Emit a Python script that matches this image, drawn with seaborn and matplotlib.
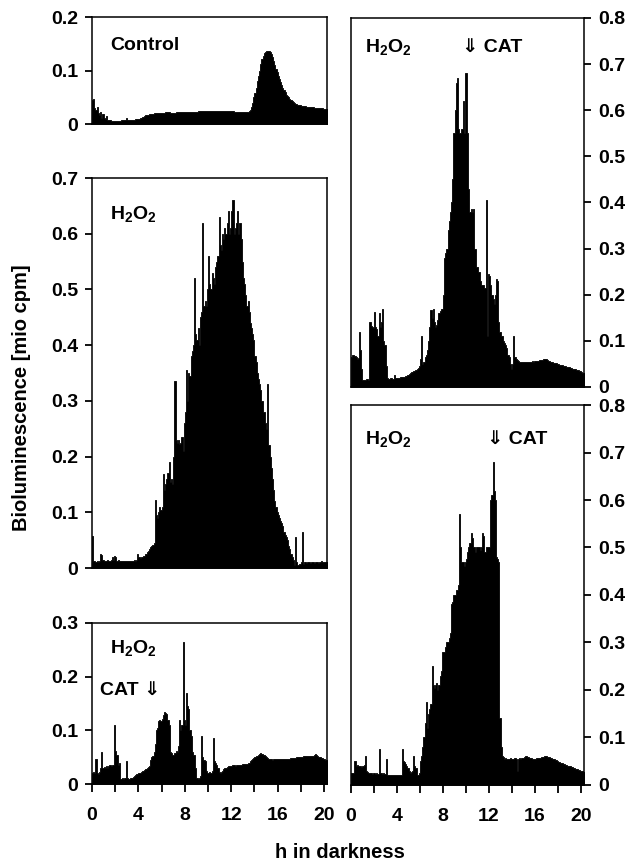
import numpy as np
import pandas as pd
import matplotlib
matplotlib.use("Agg")
import matplotlib.pyplot as plt
import seaborn as sns

# bioluminescence [mio cpm], one value per 0.1 h bin, one row per hour (0 .. 20.2 h)
control = [
    0.045, 0.046, 0.030, 0.026, 0.032, 0.020, 0.017, 0.022, 0.012, 0.018,
    0.012, 0.010, 0.015, 0.008, 0.007, 0.007, 0.006, 0.006, 0.006, 0.006,
    0.006, 0.006, 0.006, 0.006, 0.006, 0.007, 0.007, 0.007, 0.007, 0.011,
    0.007, 0.007, 0.007, 0.007, 0.008, 0.008, 0.008, 0.009, 0.009, 0.010,
    0.010, 0.011, 0.012, 0.013, 0.014, 0.015, 0.016, 0.017, 0.017, 0.018,
    0.018, 0.019, 0.019, 0.020, 0.020, 0.020, 0.021, 0.021, 0.021, 0.021,
    0.021, 0.021, 0.021, 0.022, 0.022, 0.022, 0.022, 0.021, 0.021, 0.021,
    0.021, 0.021, 0.022, 0.022, 0.022, 0.022, 0.022, 0.022, 0.022, 0.022,
    0.022, 0.022, 0.022, 0.023, 0.023, 0.023, 0.023, 0.023, 0.023, 0.023,
    0.023, 0.024, 0.024, 0.024, 0.024, 0.024, 0.025, 0.025, 0.025, 0.025,
    0.025, 0.025, 0.025, 0.025, 0.025, 0.025, 0.025, 0.025, 0.025, 0.025,
    0.025, 0.025, 0.024, 0.024, 0.024, 0.024, 0.024, 0.024, 0.024, 0.024,
    0.024, 0.024, 0.023, 0.023, 0.023, 0.023, 0.023, 0.022, 0.022, 0.022,
    0.022, 0.022, 0.022, 0.022, 0.023, 0.024, 0.026, 0.032, 0.040, 0.050,
    0.058, 0.068, 0.080, 0.090, 0.100, 0.112, 0.122, 0.128, 0.132, 0.134,
    0.136, 0.137, 0.136, 0.134, 0.130, 0.125, 0.118, 0.110, 0.103, 0.097,
    0.090, 0.084, 0.078, 0.073, 0.068, 0.063, 0.059, 0.055, 0.052, 0.050,
    0.047, 0.045, 0.043, 0.041, 0.040, 0.038, 0.037, 0.036, 0.035, 0.035,
    0.034, 0.034, 0.033, 0.033, 0.032, 0.032, 0.032, 0.031, 0.031, 0.031,
    0.031, 0.030, 0.030, 0.030, 0.030, 0.029, 0.029, 0.029, 0.029, 0.028,
    0.028, 0.028, 0.028,
]

h2o2 = [
    0.057, 0.012, 0.012, 0.010, 0.012, 0.011, 0.013, 0.025, 0.024, 0.015,
    0.012, 0.013, 0.012, 0.014, 0.013, 0.012, 0.015, 0.020, 0.014, 0.022,
    0.020, 0.013, 0.014, 0.013, 0.012, 0.013, 0.012, 0.013, 0.013, 0.012,
    0.013, 0.013, 0.013, 0.012, 0.013, 0.013, 0.014, 0.013, 0.014, 0.026,
    0.020, 0.018, 0.019, 0.020, 0.022, 0.022, 0.025, 0.028, 0.030, 0.035,
    0.038, 0.040, 0.042, 0.045, 0.122, 0.095, 0.090, 0.100, 0.110, 0.105,
    0.110, 0.168, 0.140, 0.150, 0.160, 0.170, 0.190, 0.155, 0.160, 0.150,
    0.200, 0.335, 0.230, 0.225, 0.230, 0.222, 0.225, 0.235, 0.210, 0.260,
    0.280, 0.355, 0.300, 0.350, 0.345, 0.380, 0.390, 0.400, 0.520, 0.420,
    0.410, 0.430, 0.400, 0.450, 0.460, 0.620, 0.470, 0.480, 0.470, 0.500,
    0.560, 0.510, 0.500, 0.530, 0.520, 0.510, 0.540, 0.550, 0.560, 0.630,
    0.580, 0.570, 0.600, 0.590, 0.610, 0.600, 0.620, 0.640, 0.600, 0.610,
    0.640, 0.660, 0.600, 0.610, 0.620, 0.640, 0.600, 0.620, 0.590, 0.550,
    0.520, 0.510, 0.490, 0.470, 0.480, 0.460, 0.440, 0.430, 0.420, 0.410,
    0.380, 0.370, 0.350, 0.340, 0.330, 0.320, 0.300, 0.280, 0.280, 0.260,
    0.250, 0.330, 0.220, 0.200, 0.180, 0.160, 0.140, 0.120, 0.110, 0.100,
    0.095, 0.090, 0.085, 0.080, 0.075, 0.065, 0.060, 0.055, 0.050, 0.040,
    0.035, 0.025, 0.020, 0.015, 0.005, 0.055, 0.010, 0.005, 0.008, 0.008,
    0.010, 0.065, 0.008, 0.010, 0.009, 0.010, 0.011, 0.010, 0.009, 0.010,
    0.010, 0.009, 0.010, 0.011, 0.010, 0.009, 0.010, 0.012, 0.010, 0.010,
    0.010, 0.011, 0.010,
]

h2o2_cat_early = [
    0.020, 0.022, 0.020, 0.046, 0.020, 0.018, 0.022, 0.030, 0.060, 0.030,
    0.032, 0.030, 0.034, 0.030, 0.033, 0.035, 0.034, 0.036, 0.035, 0.110,
    0.062, 0.055, 0.035, 0.040, 0.010, 0.010, 0.012, 0.010, 0.011, 0.042,
    0.012, 0.010, 0.010, 0.011, 0.012, 0.013, 0.015, 0.017, 0.018, 0.019,
    0.020, 0.021, 0.022, 0.024, 0.025, 0.026, 0.028, 0.030, 0.031, 0.033,
    0.045, 0.050, 0.052, 0.060, 0.075, 0.100, 0.105, 0.118, 0.120, 0.118,
    0.122, 0.128, 0.135, 0.133, 0.130, 0.120, 0.110, 0.060, 0.058, 0.055,
    0.055, 0.058, 0.062, 0.060, 0.070, 0.120, 0.100, 0.110, 0.265, 0.120,
    0.110, 0.170, 0.145, 0.140, 0.100, 0.090, 0.060, 0.055, 0.055, 0.030,
    0.012, 0.010, 0.012, 0.015, 0.090, 0.050, 0.045, 0.042, 0.025, 0.020,
    0.020, 0.022, 0.020, 0.025, 0.085, 0.042, 0.040, 0.035, 0.030, 0.022,
    0.020, 0.022, 0.025, 0.028, 0.030, 0.030, 0.032, 0.033, 0.033, 0.034,
    0.034, 0.035, 0.035, 0.034, 0.035, 0.036, 0.035, 0.036, 0.036, 0.037,
    0.037, 0.038, 0.038, 0.038, 0.039, 0.040, 0.042, 0.044, 0.046, 0.048,
    0.050, 0.052, 0.053, 0.055, 0.056, 0.057, 0.056, 0.055, 0.054, 0.052,
    0.050, 0.048, 0.047, 0.046, 0.046, 0.045, 0.046, 0.046, 0.046, 0.046,
    0.046, 0.047, 0.047, 0.046, 0.047, 0.047, 0.046, 0.047, 0.047, 0.047,
    0.047, 0.048, 0.048, 0.048, 0.049, 0.049, 0.050, 0.050, 0.050, 0.051,
    0.051, 0.051, 0.052, 0.052, 0.052, 0.052, 0.053, 0.053, 0.053, 0.052,
    0.053, 0.054, 0.056, 0.054, 0.052, 0.051, 0.050, 0.049, 0.048, 0.047,
    0.046, 0.045, 0.044,
]

h2o2_cat_mid = [
    0.065, 0.069, 0.070, 0.068, 0.066, 0.060, 0.062, 0.120, 0.080, 0.040,
    0.015, 0.016, 0.015, 0.017, 0.018, 0.016, 0.140, 0.132, 0.130, 0.128,
    0.163, 0.130, 0.125, 0.110, 0.160, 0.130, 0.140, 0.170, 0.100, 0.090,
    0.045, 0.020, 0.018, 0.018, 0.019, 0.020, 0.018, 0.025, 0.020, 0.019,
    0.019, 0.020, 0.020, 0.021, 0.021, 0.022, 0.022, 0.023, 0.024, 0.025,
    0.028, 0.030, 0.032, 0.033, 0.034, 0.035, 0.037, 0.040, 0.042, 0.045,
    0.060, 0.110, 0.050, 0.055, 0.065, 0.070, 0.080, 0.100, 0.130, 0.166,
    0.150, 0.170, 0.140, 0.130, 0.135, 0.145, 0.160, 0.165, 0.170, 0.170,
    0.200, 0.280, 0.290, 0.300, 0.340, 0.360, 0.380, 0.400, 0.450, 0.550,
    0.600, 0.660, 0.670, 0.560, 0.550, 0.550, 0.560, 0.620, 0.550, 0.680,
    0.680, 0.550, 0.430, 0.380, 0.385, 0.380, 0.385, 0.300, 0.300, 0.260,
    0.250, 0.250, 0.230, 0.220, 0.220, 0.220, 0.215, 0.405, 0.110, 0.245,
    0.240, 0.220, 0.200, 0.190, 0.180, 0.200, 0.235, 0.230, 0.140, 0.120,
    0.110, 0.110, 0.100, 0.095, 0.090, 0.085, 0.070, 0.065, 0.050, 0.040,
    0.050, 0.110, 0.065, 0.060, 0.058, 0.056, 0.055, 0.055, 0.055, 0.054,
    0.055, 0.055, 0.055, 0.054, 0.055, 0.055, 0.055, 0.056, 0.055, 0.056,
    0.056, 0.057, 0.057, 0.058, 0.058, 0.058, 0.059, 0.060, 0.060, 0.060,
    0.058, 0.057, 0.056, 0.055, 0.054, 0.054, 0.053, 0.052, 0.051, 0.050,
    0.049, 0.048, 0.048, 0.047, 0.046, 0.046, 0.045, 0.044, 0.044, 0.043,
    0.042, 0.041, 0.040, 0.040, 0.039, 0.038, 0.037, 0.036, 0.035, 0.034,
    0.032, 0.031, 0.030,
]

h2o2_cat_late = [
    0.025, 0.026, 0.025, 0.050, 0.040, 0.042, 0.040, 0.041, 0.040, 0.038,
    0.040, 0.042, 0.060, 0.030, 0.028, 0.025, 0.026, 0.025, 0.024, 0.025,
    0.025, 0.024, 0.025, 0.024, 0.075, 0.026, 0.025, 0.024, 0.025, 0.024,
    0.055, 0.022, 0.020, 0.021, 0.020, 0.020, 0.021, 0.020, 0.020, 0.021,
    0.020, 0.021, 0.020, 0.022, 0.075, 0.050, 0.048, 0.045, 0.040, 0.035,
    0.030, 0.025, 0.028, 0.030, 0.060, 0.040, 0.035, 0.022, 0.020, 0.025,
    0.050, 0.060, 0.080, 0.100, 0.130, 0.175, 0.120, 0.150, 0.160, 0.170,
    0.250, 0.210, 0.205, 0.210, 0.215, 0.200, 0.210, 0.230, 0.240, 0.280,
    0.280, 0.280, 0.290, 0.300, 0.300, 0.310, 0.320, 0.380, 0.385, 0.400,
    0.400, 0.410, 0.410, 0.420, 0.570, 0.500, 0.470, 0.470, 0.460, 0.470,
    0.475, 0.490, 0.500, 0.510, 0.530, 0.520, 0.500, 0.500, 0.490, 0.500,
    0.500, 0.500, 0.495, 0.500, 0.530, 0.525, 0.490, 0.500, 0.500, 0.500,
    0.500, 0.600, 0.610, 0.680, 0.620, 0.600, 0.480, 0.475, 0.470, 0.140,
    0.080, 0.060, 0.058, 0.055, 0.056, 0.055, 0.054, 0.055, 0.056, 0.055,
    0.055, 0.054, 0.056, 0.055, 0.030, 0.055, 0.056, 0.055, 0.057, 0.056,
    0.058, 0.060, 0.060, 0.059, 0.058, 0.057, 0.056, 0.055, 0.055, 0.055,
    0.055, 0.056, 0.056, 0.057, 0.057, 0.058, 0.058, 0.059, 0.060, 0.060,
    0.059, 0.058, 0.058, 0.057, 0.056, 0.055, 0.054, 0.053, 0.052, 0.050,
    0.049, 0.048, 0.047, 0.046, 0.045, 0.044, 0.043, 0.042, 0.041, 0.040,
    0.039, 0.038, 0.037, 0.036, 0.035, 0.034, 0.033, 0.032, 0.031, 0.030,
    0.030, 0.029, 0.028,
]

bin_h = 0.1
n_bins = len(control)
hours = np.arange(n_bins) * bin_h + bin_h / 2   # bin centres
x_major = [0, 4, 8, 12, 16, 20]
x_minor = [2, 6, 10, 14, 18]

sns.set_style("ticks")
plt.rcParams["font.family"] = ["Liberation Sans", "DejaVu Sans"]
plt.rcParams["font.weight"] = "bold"
plt.rcParams["text.color"] = "black"
plt.rcParams["xtick.color"] = "black"
plt.rcParams["ytick.color"] = "black"
plt.rcParams["mathtext.fontset"] = "custom"
plt.rcParams["mathtext.rm"] = "Liberation Sans:bold"
plt.rcParams["mathtext.bf"] = "Liberation Sans:bold"
plt.rcParams["mathtext.it"] = "Liberation Sans:bold"

fig = plt.figure(figsize=(6.34, 8.63), dpi=100)

# (values, rect, ymax, right side ticks, show x ticks)
panels = [
    (control, [0.1451, 0.8563, 0.3707, 0.1240], 0.2, False, False),
    (h2o2, [0.1451, 0.3418, 0.3707, 0.4519], 0.7, False, False),
    (h2o2_cat_early, [0.1451, 0.0915, 0.3707, 0.1866], 0.3, False, True),
    (h2o2_cat_mid, [0.5536, 0.5516, 0.3675, 0.4276], 0.8, True, False),
    (h2o2_cat_late, [0.5536, 0.0904, 0.3675, 0.4403], 0.8, True, True),
]

fmt = matplotlib.ticker.FuncFormatter(lambda v, p: "0" if abs(v) < 1e-9 else f"{v:.1f}")
axes = []
for vals, rect, ymax, right, xt in panels:
    ax = fig.add_axes(rect)
    df = pd.DataFrame({"h": hours, "lum": vals})
    sns.histplot(data=df, x="h", weights="lum", binwidth=bin_h,
                 binrange=(0, n_bins * bin_h), element="step", fill=True,
                 color="black", alpha=1, linewidth=0.6, ax=ax)
    ax.set_xlim(0, 20.25)
    ax.set_ylim(0, ymax)
    ax.set_yticks(np.round(np.arange(0, ymax + 0.001, 0.1), 1))
    ax.yaxis.set_major_formatter(fmt)
    ax.set_xlabel("")
    ax.set_ylabel("")
    if right:
        ax.yaxis.tick_right()
    if xt:
        ax.set_xticks(x_major)
        ax.set_xticks(x_minor, minor=True)
        ax.tick_params(axis="x", which="both", direction="out", length=5.5,
                       width=1.3, pad=11)
    else:
        ax.set_xticks([])
    ax.tick_params(axis="y", direction="out", length=5, width=1.3, pad=5)
    ax.tick_params(labelsize=14)
    for s in ax.spines.values():
        s.set_visible(True)
        s.set_linewidth(1.1)
        s.set_color("black")
    axes.append(ax)

lab = dict(fontsize=14, fontweight="bold", va="center")
h2o2_txt = r"$\mathbf{H_2O_2}$"
axes[0].text(0.077, 0.73, "Control", transform=axes[0].transAxes, **lab)
axes[1].text(0.077, 0.908, h2o2_txt, transform=axes[1].transAxes, **lab)
axes[2].text(0.077, 0.845, h2o2_txt, transform=axes[2].transAxes, **lab)
axes[2].text(0.034, 0.584, "CAT \u21d3", transform=axes[2].transAxes, **lab)
axes[3].text(0.06, 0.921, h2o2_txt, transform=axes[3].transAxes, **lab)
axes[3].text(0.476, 0.921, "\u21d3 CAT", transform=axes[3].transAxes, **lab)
axes[4].text(0.06, 0.91, h2o2_txt, transform=axes[4].transAxes, **lab)
axes[4].text(0.584, 0.91, "\u21d3 CAT", transform=axes[4].transAxes, **lab)

fig.text(22 / 634, 1 - 398 / 863, "Bioluminescence [mio cpm]", rotation=90,
         ha="center", va="center", fontsize=14.5, fontweight="bold")
fig.text(340 / 634, 1 - 852 / 863, "h in darkness", ha="center", va="center",
         fontsize=14.5, fontweight="bold")

fig.savefig("out.png", dpi=100, facecolor="white")
